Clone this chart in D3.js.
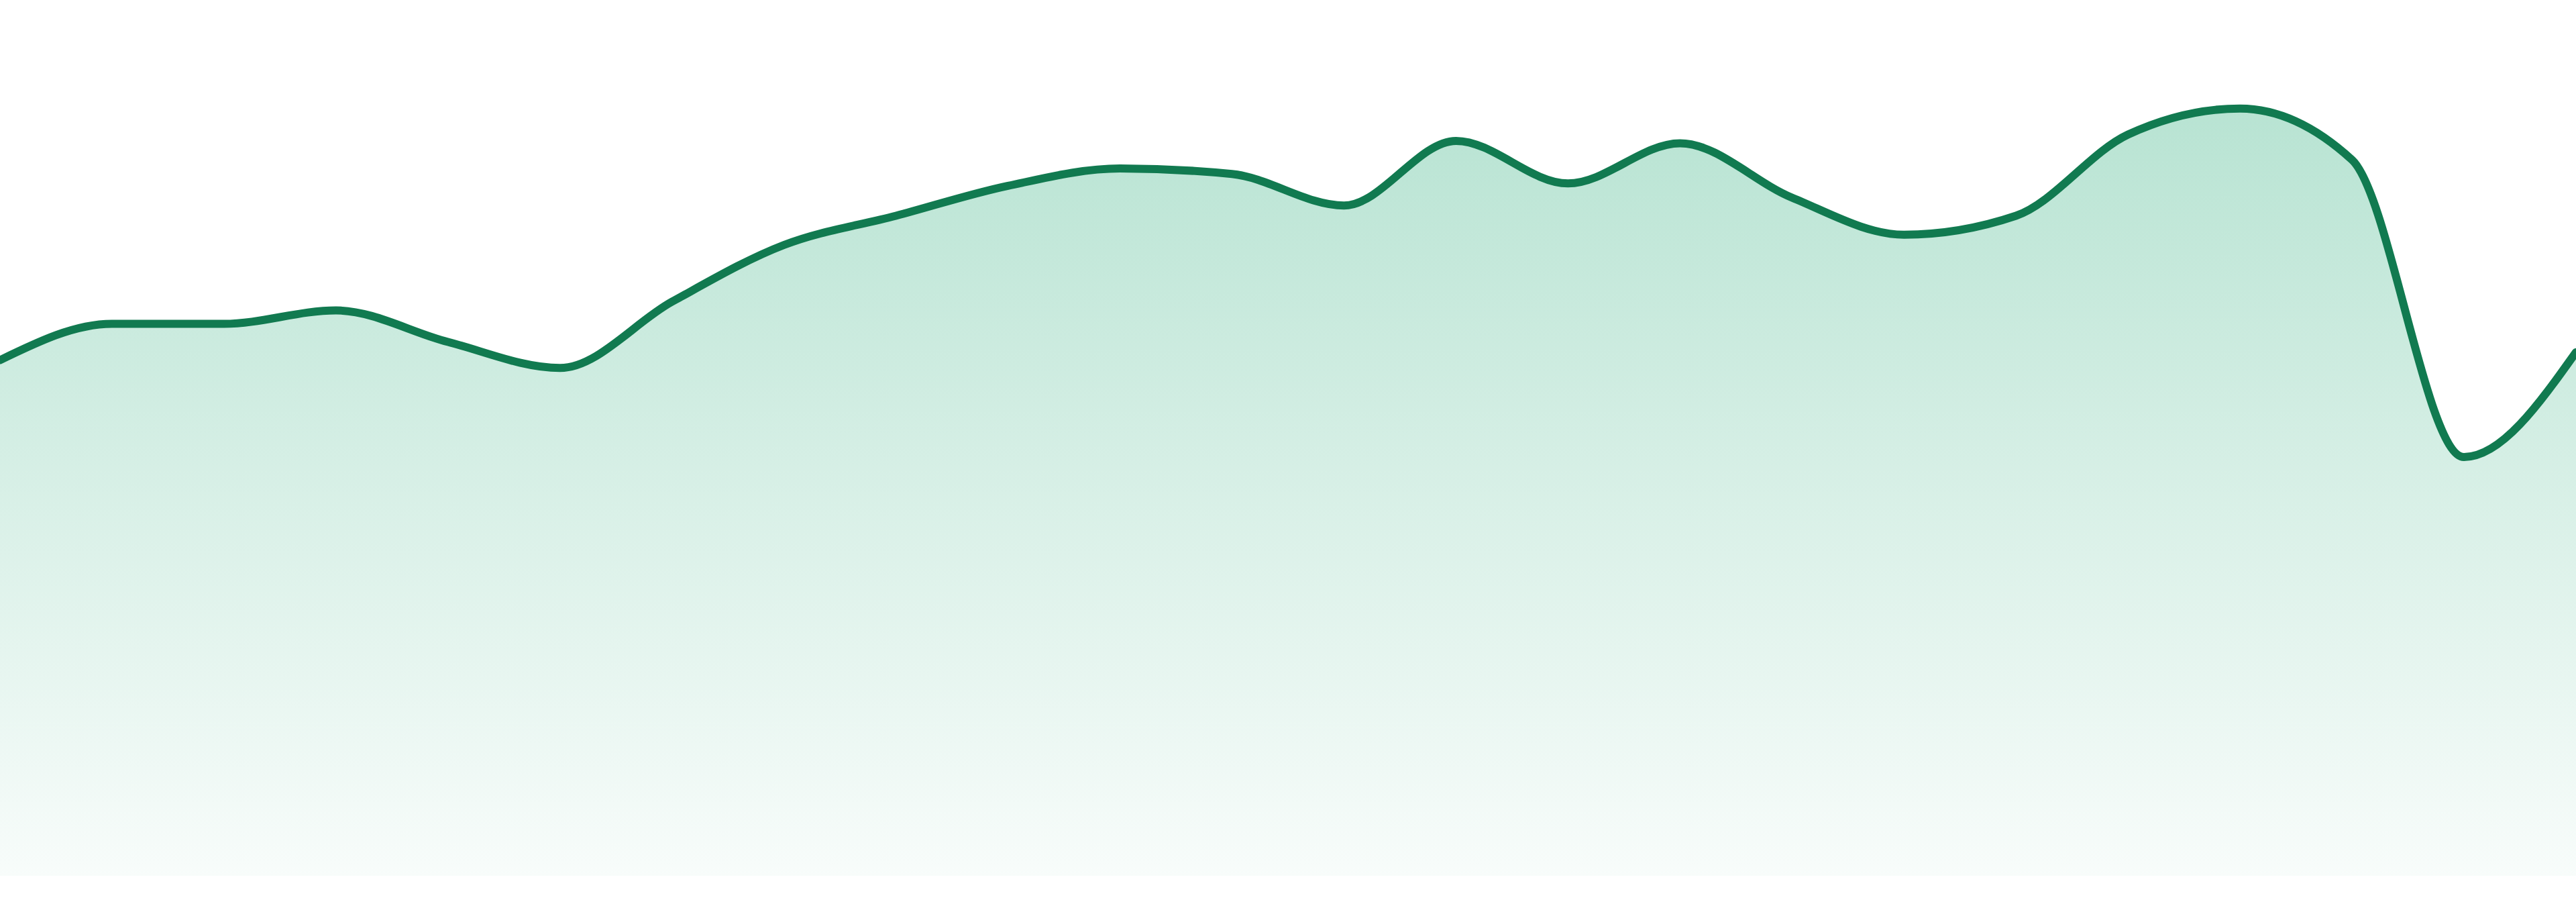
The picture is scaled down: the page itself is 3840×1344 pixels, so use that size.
<!DOCTYPE html>
<html>
<head>
<meta charset="utf-8">
<script src="https://cdn.jsdelivr.net/npm/d3@7"></script>
<style>
  html, body { margin: 0; padding: 0; background: #ffffff; overflow: hidden; }
  svg { display: block; }
</style>
</head>
<body>
<div id="chart"></div>
<script>
(function() {
  'use strict';

  // Data points, evenly spaced left to right
  var periods = d3.range(24);
  var values = [
    65.4, 70.0, 70.0, 71.7, 67.7, 64.4, 72.8, 80.0,
    83.7, 87.5, 89.7, 89.0, 85.0, 93.2, 87.8, 92.9,
    86.0, 81.3, 83.7, 94.0, 97.3, 90.8, 53.1, 66.4
  ];
  var yDomain = [0, 100];

  var width = 3840;
  var height = 1344;
  var baseline = 1305;

  var lineColor = '#117a50';
  var fillColor = '#12a36b';

  var data = periods.map(function(p, i) { return { p: p, v: values[i] }; });

  var x = d3.scaleLinear()
    .domain(d3.extent(periods))
    .range([0, width]);

  var y = d3.scaleLinear()
    .domain(yDomain)
    .range([baseline, 130]);

  var svg = d3.select('#chart')
    .append('svg')
    .attr('width', width)
    .attr('height', height)
    .attr('viewBox', '0 0 ' + width + ' ' + height);

  // Vertical fade for the area
  var grad = svg.append('defs')
    .append('linearGradient')
    .attr('id', 'areaFade')
    .attr('gradientUnits', 'userSpaceOnUse')
    .attr('x1', 0).attr('x2', 0)
    .attr('y1', y(d3.max(values)))
    .attr('y2', y(0));

  grad.append('stop').attr('offset', '0%')
    .attr('stop-color', fillColor).attr('stop-opacity', 0.3);
  grad.append('stop').attr('offset', '100%')
    .attr('stop-color', fillColor).attr('stop-opacity', 0.03);

  var area = d3.area()
    .curve(d3.curveMonotoneX)
    .x(function(d) { return x(d.p); })
    .y0(y(0))
    .y1(function(d) { return y(d.v); });

  var line = d3.line()
    .curve(d3.curveMonotoneX)
    .x(function(d) { return x(d.p); })
    .y(function(d) { return y(d.v); });

  svg.append('path')
    .datum(data)
    .attr('d', area)
    .style('fill', 'url(#areaFade)');

  svg.append('path')
    .datum(data)
    .attr('d', line)
    .style('fill', 'none')
    .style('stroke', lineColor)
    .style('stroke-width', 12)
    .style('stroke-linejoin', 'round')
    .style('stroke-linecap', 'round');
})();
</script>
</body>
</html>
